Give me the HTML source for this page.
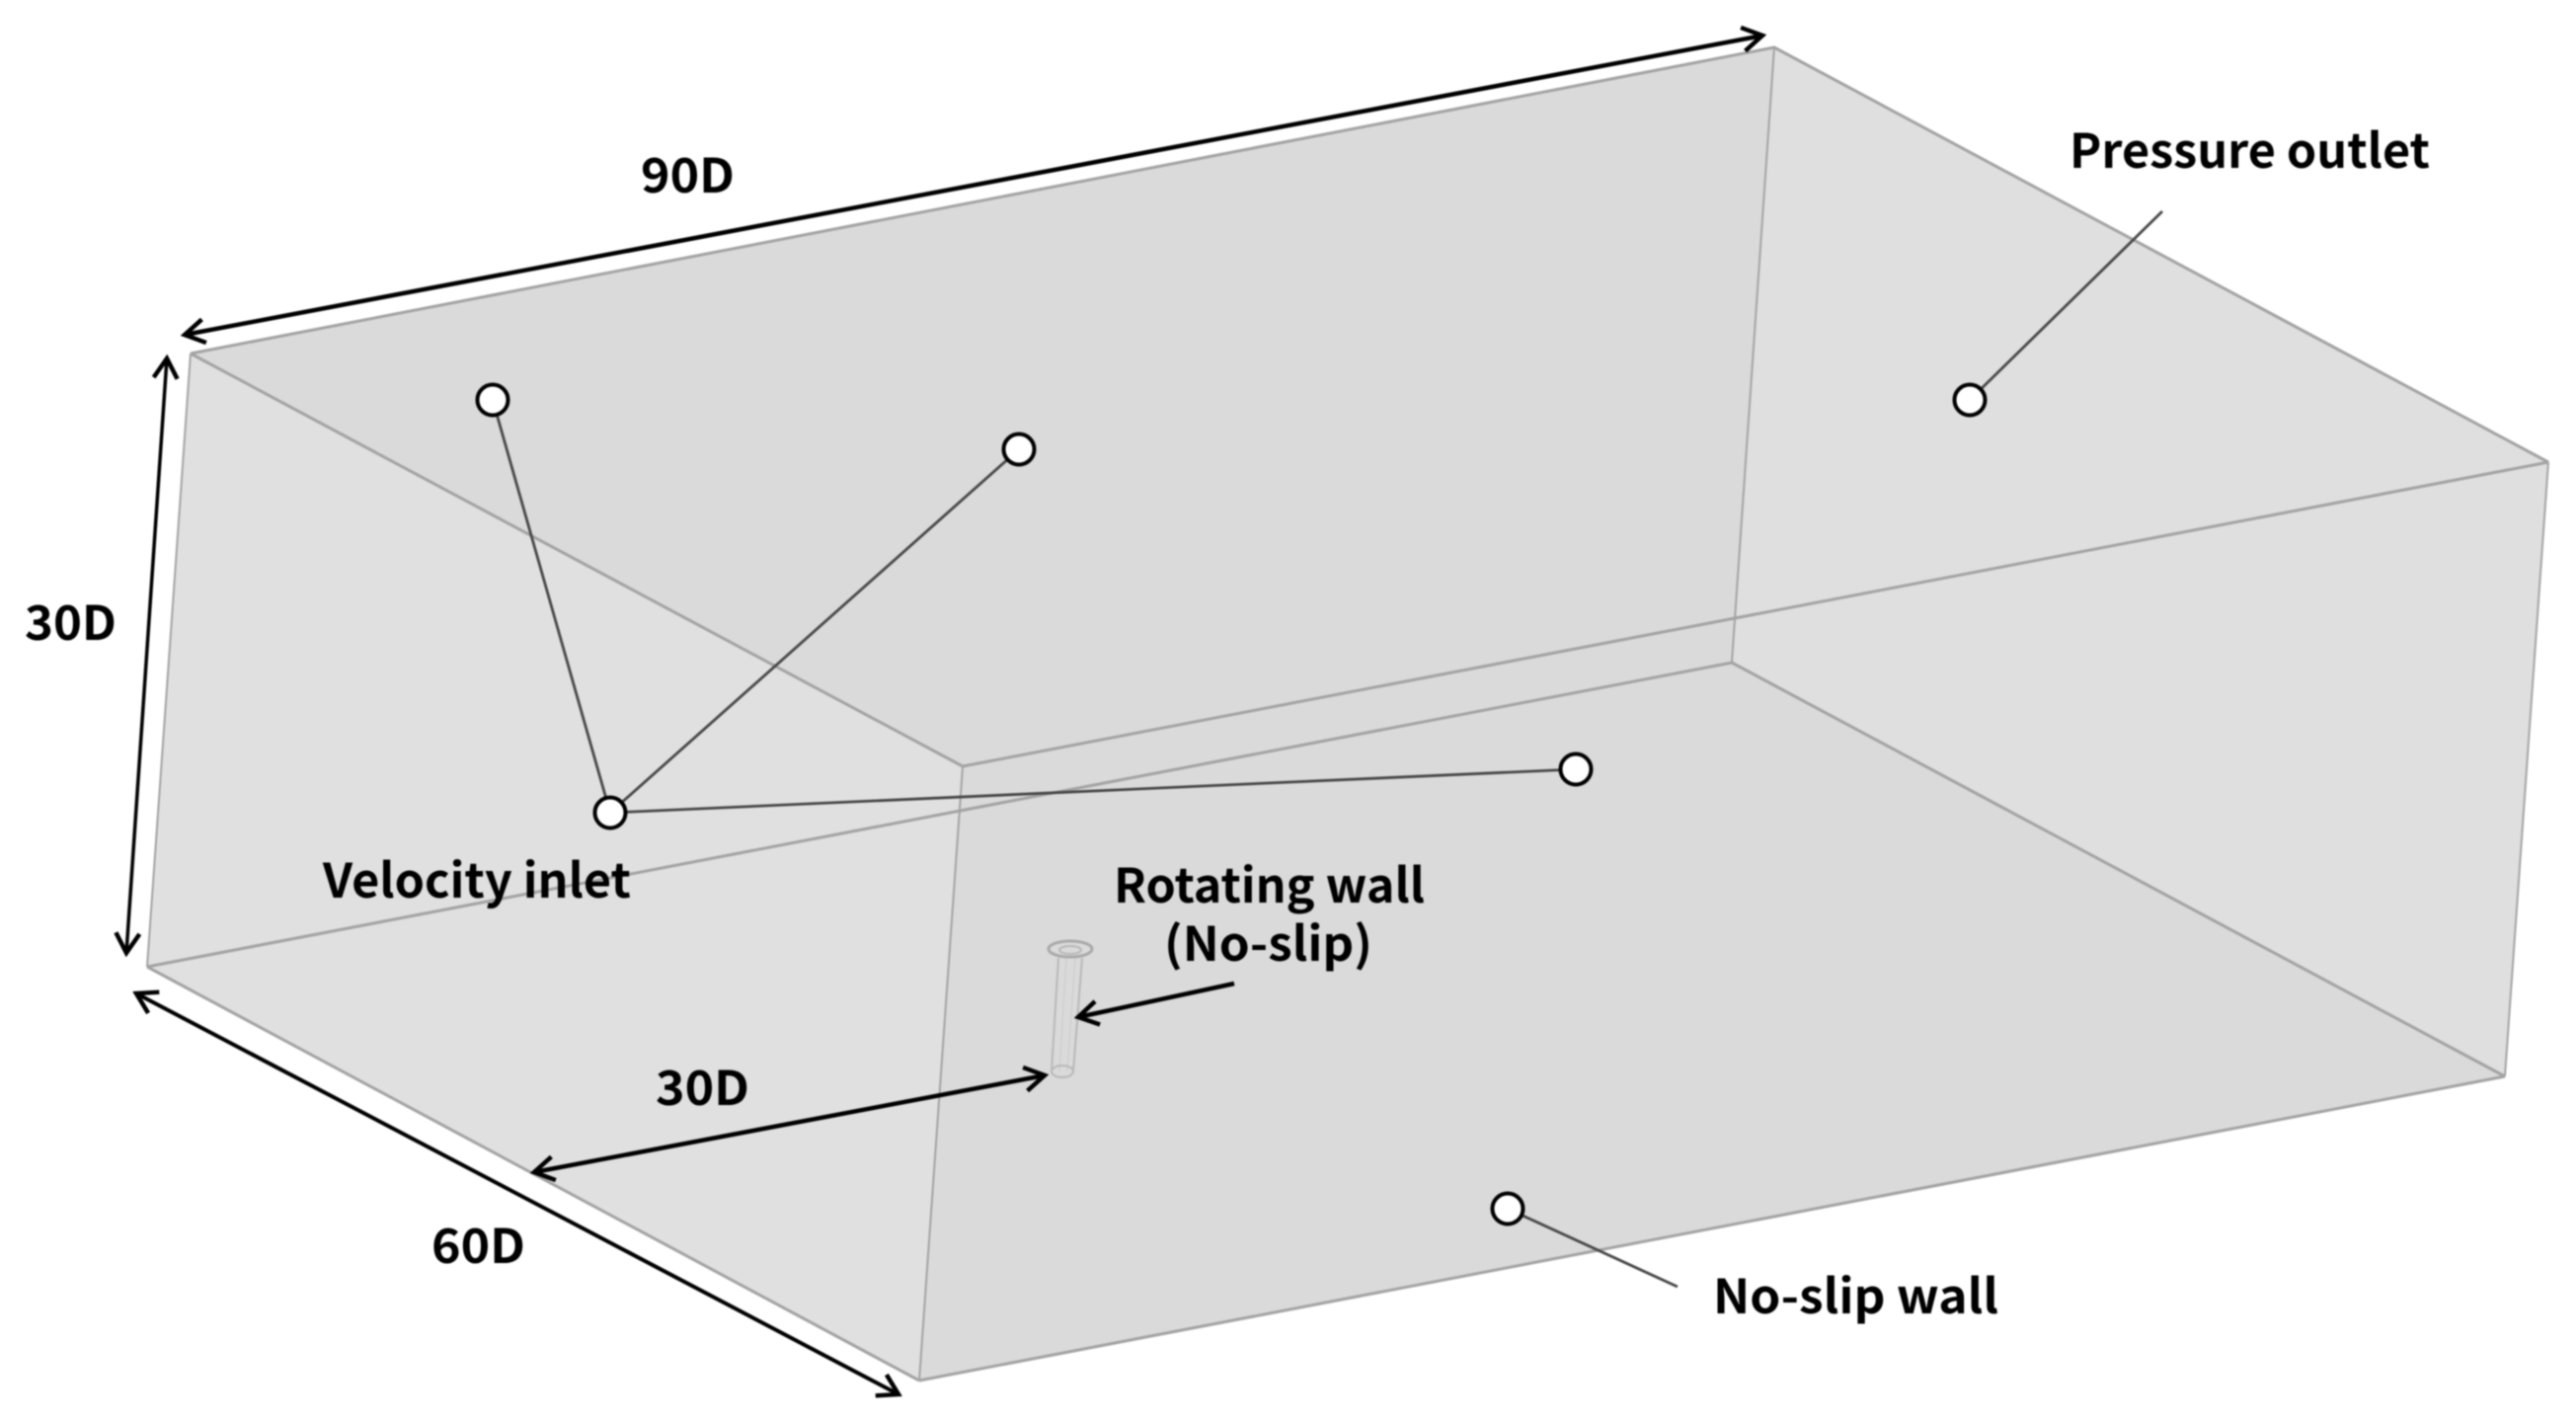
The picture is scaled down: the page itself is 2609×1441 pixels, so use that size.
<!DOCTYPE html>
<html>
<head>
<meta charset="utf-8">
<style>
html,body{margin:0;padding:0;background:#fff;}
svg{display:block;width:2609px;height:1441px;filter:blur(0.7px);}
text{font-family:"Noto Sans CJK KR","Liberation Sans",sans-serif;font-weight:700;font-size:48px;fill:#000;}
</style>
</head>
<body>
<svg xmlns="http://www.w3.org/2000/svg" width="2609" height="1441" viewBox="0 0 2609 1441">
<defs>
<marker id="a" markerUnits="userSpaceOnUse" viewBox="-24 -16 28 32" refX="0" refY="0" markerWidth="28" markerHeight="32" orient="auto-start-reverse">
<path d="M-20,-12 L0,0 L-20,12" fill="none" stroke="#000" stroke-width="4.5"/>
</marker>
</defs>
<rect width="2609" height="1441" fill="#fff"/>

<!-- faces -->
<polygon points="193,358 1797,48 2581,468 2537,1090 931,1398 149,979" fill="#e0e0e0"/>
<polygon points="193,358 1797,48 1757,626 975,776" fill="#dadada"/>
<polygon points="975,776 1757,626 1754,671 2537,1090 931,1398" fill="#dadada"/>
<polygon points="1797,48 2581,468 2537,1090 1754,671" fill="#dfdfdf"/>

<!-- edges -->
<g fill="none" stroke="#a3a3a3" stroke-width="3">
<polyline points="193,358 1797,48 2581,468"/>
<line x1="975" y1="776" x2="2581" y2="468"/>
<line x1="149" y1="979" x2="1754" y2="671"/>
<line x1="931" y1="1398" x2="2537" y2="1090"/>
<line x1="193" y1="358" x2="975" y2="776"/>
<line x1="149" y1="979" x2="931" y2="1398"/>
<line x1="1754" y1="671" x2="2537" y2="1090"/>
<g stroke-width="2">
<line x1="193" y1="358" x2="149" y2="979"/>
<line x1="975" y1="776" x2="931" y2="1398"/>
<line x1="1797" y1="48" x2="1754" y2="671"/>
<line x1="2581" y1="468" x2="2537" y2="1090"/>
</g>
</g>

<!-- cylinder -->
<g fill="none" stroke="#b8b8b8" stroke-width="2">
<line x1="1072" y1="970" x2="1065" y2="1085"/>
<line x1="1096" y1="970" x2="1087" y2="1085"/>
<line x1="1080" y1="970" x2="1073" y2="1085" stroke="#cfcfcf" stroke-width="1.5"/>
<line x1="1089" y1="970" x2="1081" y2="1085" stroke="#cfcfcf" stroke-width="1.5"/>
<ellipse cx="1084" cy="961" rx="22" ry="8" stroke="#aaa" stroke-width="3"/>
<ellipse cx="1084" cy="962" rx="11" ry="4"/>
<ellipse cx="1076" cy="1085" rx="11" ry="6"/>
</g>

<!-- leader lines -->
<g stroke="#474747" stroke-width="2.8" fill="none">
<line x1="618" y1="823" x2="499" y2="405"/>
<line x1="618" y1="823" x2="1032" y2="455"/>
<line x1="618" y1="823" x2="1596" y2="779"/>
<line x1="2190" y1="214" x2="1995" y2="405"/>
<line x1="1527" y1="1224" x2="1699" y2="1303"/>
</g>

<!-- terminals -->
<g fill="#fff" stroke="#000" stroke-width="4">
<circle cx="499" cy="405" r="15.5"/>
<circle cx="1032" cy="455" r="15.5"/>
<circle cx="1995" cy="405" r="15.5"/>
<circle cx="618" cy="823" r="15.5"/>
<circle cx="1596" cy="779" r="15.5"/>
<circle cx="1527" cy="1224" r="15.5"/>
</g>

<!-- dimension arrows -->
<g stroke="#000" fill="none">
<line x1="187" y1="339" x2="1785" y2="36" stroke-width="4.5" marker-start="url(#a)" marker-end="url(#a)"/>
<line x1="169" y1="363" x2="128" y2="965" stroke-width="3.5" marker-start="url(#a)" marker-end="url(#a)"/>
<line x1="138" y1="1006" x2="910" y2="1412" stroke-width="4" marker-start="url(#a)" marker-end="url(#a)"/>
<line x1="541" y1="1187" x2="1058" y2="1089" stroke-width="4.5" marker-start="url(#a)" marker-end="url(#a)"/>
<line x1="1250" y1="996" x2="1092" y2="1030" stroke-width="4.5" marker-end="url(#a)"/>
</g>

<!-- labels -->
<text x="649" y="195" textLength="95" lengthAdjust="spacingAndGlyphs">90D</text>
<text x="25" y="648" textLength="93" lengthAdjust="spacingAndGlyphs">30D</text>
<text x="2096" y="170" textLength="365" lengthAdjust="spacingAndGlyphs">Pressure outlet</text>
<text x="327" y="909" textLength="312" lengthAdjust="spacingAndGlyphs">Velocity inlet</text>
<text x="1128" y="914" textLength="315" lengthAdjust="spacingAndGlyphs">Rotating wall</text>
<text x="1179" y="973" textLength="211" lengthAdjust="spacingAndGlyphs">(No-slip)</text>
<text x="664" y="1119" textLength="95" lengthAdjust="spacingAndGlyphs">30D</text>
<text x="437" y="1279" textLength="95" lengthAdjust="spacingAndGlyphs">60D</text>
<text x="1735" y="1330" textLength="289" lengthAdjust="spacingAndGlyphs">No-slip wall</text>
</svg>
</body>
</html>
